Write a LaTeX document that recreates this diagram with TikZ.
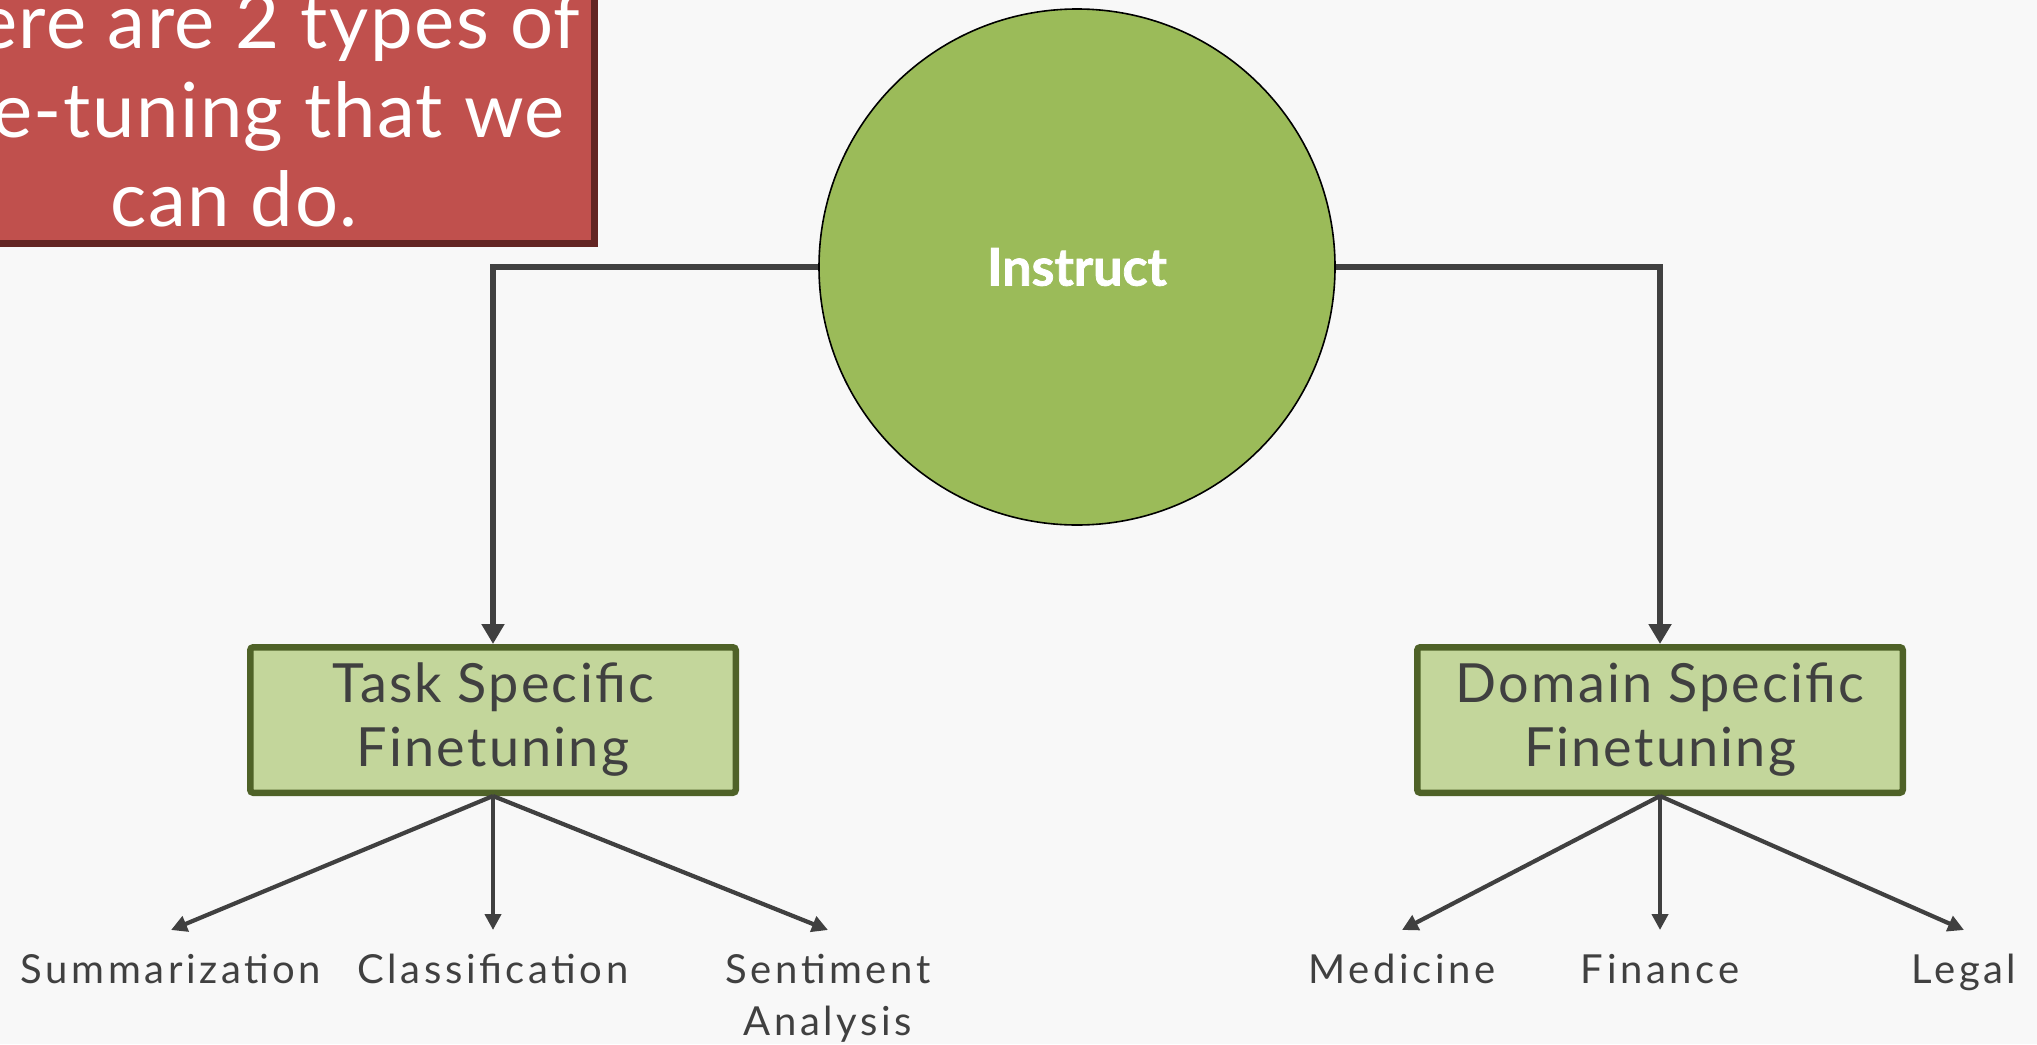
\documentclass[tikz,border=0pt]{standalone}
\usepackage{fontspec}
\setmainfont{Lato}
\usetikzlibrary{arrows.meta,shadows}
\definecolor{paper}{HTML}{F8F8F8}
\definecolor{ink}{HTML}{404040}
\definecolor{notered}{HTML}{C0504D}
\definecolor{noteshade}{HTML}{632523}
\definecolor{rootgreen}{HTML}{9BBB59}
\definecolor{boxgreen}{HTML}{C3D69B}
\definecolor{boxedge}{HTML}{4F6228}
\begin{document}
\begin{tikzpicture}[x=0.5pt, y=-0.5pt, every node/.style={text=ink},
        note/.style={fill=notered, text=white, minimum width=357pt, minimum height=130pt, align=center,
            font=\fontsize{38}{44.5}\selectfont\addfontfeatures{LetterSpace=2},
            general shadow={fill=noteshade, shadow xshift=3.5pt, shadow yshift=-3.5pt}},
        root/.style={circle, draw=black, line width=0.8pt, fill=rootgreen, minimum size=258pt, inner sep=0pt,
            text=white, font=\fontsize{26}{30}\selectfont\bfseries\addfontfeatures{FakeBold=1.5}},
        kind/.style={draw=boxedge, line width=3.25pt, fill=boxgreen, rounded corners=1.5pt, minimum width=242.75pt,
            minimum height=72.75pt, align=center, font=\fontsize{27}{32}\selectfont\addfontfeatures{LetterSpace=4}},
        leaf/.style={anchor=north, align=center, inner sep=0pt, outer ysep=12pt,
            font=\fontsize{20}{26}\selectfont\addfontfeatures{LetterSpace=9}},
        big/.style={draw=ink, line width=3pt, -{Triangle[length=10pt, width=11pt]}},
        small/.style={draw=ink, line width=2.1pt, -{Triangle[length=8pt, width=8pt]}}]
        \useasboundingbox[fill=paper] (0,0) rectangle (2037,1044);
        \clip (0,0) rectangle (2037,1044);

        \node[note] (note) at (234,110) {There are 2 types of\\fine-tuning that we\\can do.};
        \node[root] (inst) at (1077,267) {Instruct};
        \node[kind] (task) at (493,720) {Task Specific\\Finetuning};
        \node[kind] (dom) at (1660,720) {Domain Specific\\Finetuning};

        \node[leaf] (summ) at (171,930) {Summarization};
        \node[leaf] (clas) at (493,930) {Classification};
        \node[leaf] (sent) at (828,930) {Sentiment\\Analysis};
        \node[leaf] (med) at (1402,930) {Medicine};
        \node[leaf] (fin) at (1660,930) {Finance};
        \node[leaf] (leg) at (1964,930) {Legal};

        \draw[big] (inst.west) -| (task.north);
        \draw[big] (inst.east) -| (dom.north);

        \draw[small] (task.south) -- (summ.north);
        \draw[small] (task.south) -- (clas.north);
        \draw[small] (task.south) -- (sent.north);
        \draw[small] (dom.south) -- (med.north);
        \draw[small] (dom.south) -- (fin.north);
        \draw[small] (dom.south) -- (leg.north);
    \end{tikzpicture}
\end{document}
